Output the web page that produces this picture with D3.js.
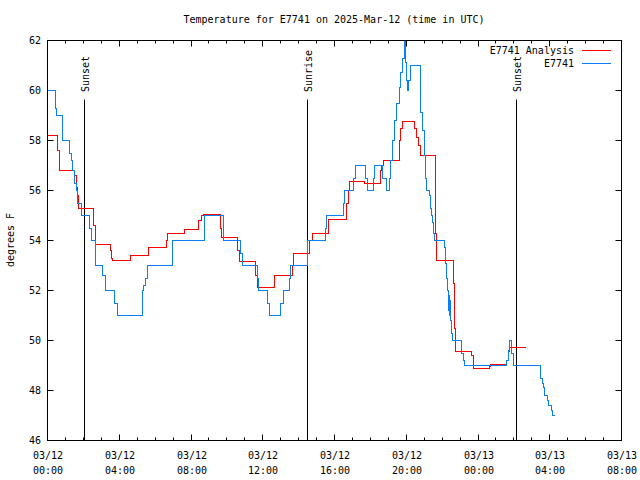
<!DOCTYPE html>
<html><head><meta charset="utf-8">
<script src="https://cdn.jsdelivr.net/npm/d3@7"></script>
<style>body{margin:0;background:#fff}svg{display:block}text{font-family:"DejaVu Sans Mono",monospace;font-size:10px;fill:#000}</style>
</head><body><svg id="c" width="640" height="480"></svg>
<script>
// hours since 2025-03-12 00:00 UTC
const obsHours=[0,0.42,0.50,0.85,1.23,1.32,1.41,1.51,1.59,1.70,1.87,2.36,2.43,2.68,3.09,3.21,3.76,3.91,5.27,5.36,5.47,5.60,6.98,8.76,9.82,10.77,10.85,11.72,11.79,12.25,12.35,12.97,13.13,13.50,13.56,14.49,15.50,15.57,16.48,16.58,17.04,17.19,17.71,17.84,18.15,18.24,18.69,18.88,19.08,19.14,19.24,19.32,19.48,19.60,19.70,19.79,19.88,19.95,20.03,20.07,20.12,20.22,20.79,20.90,21.00,21.07,21.15,21.28,21.33,21.41,21.47,21.50,21.56,22.11,22.17,22.23,22.30,22.34,22.37,22.39,22.42,22.45,22.49,22.54,22.59,23.08,23.17,23.23,25.61,25.69,25.74,25.89,25.97,27.51,27.61,27.66,27.73,27.85,27.94,28.07,28.16,28.25];
const obsTemps=[60.0,59.3,59.0,58.0,57.5,57.2,56.8,56.3,56.0,55.5,55.0,54.5,54.0,53.0,52.6,52.0,51.5,51.0,52.0,52.2,52.5,53.0,54.0,55.0,54.0,53.5,53.0,52.5,52.0,51.5,51.0,51.5,52.0,52.5,53.0,54.0,54.5,55.0,55.5,56.0,56.5,57.0,56.5,56.0,56.5,57.0,56.5,56.0,56.5,57.2,58.0,58.8,59.5,60.1,60.7,61.3,62.0,61.1,60.4,60.0,60.4,61.0,59.1,58.4,57.4,56.5,56.0,55.8,55.3,55.0,54.7,54.3,54.0,53.7,53.1,52.5,52.0,51.2,51.8,51.0,51.6,51.0,50.8,50.3,50.0,49.5,49.2,49.0,49.2,49.6,50.0,49.5,49.0,48.5,48.3,48.1,47.8,47.6,47.4,47.2,47.0,47.0];
const anaHours=[0,0.57,0.67,1.51,1.60,1.66,1.73,2.58,2.68,3.49,3.57,3.64,4.60,5.61,6.62,6.68,7.65,8.44,8.59,8.68,9.62,9.71,10.60,10.70,11.61,11.70,12.63,13.66,13.69,14.62,14.76,15.65,16.66,16.76,16.81,17.69,18.54,18.64,18.71,19.60,19.70,19.79,20.45,20.59,20.66,20.77,21.61,21.65,21.71,22.64,22.71,22.74,23.64,23.73,24.63,24.72,25.61,25.71,25.74,26.67];
const anaTemps=[58.2,57.6,56.8,56.6,56.1,55.8,55.3,54.6,53.85,53.6,53.3,53.2,53.4,53.7,54.0,54.3,54.45,54.8,55.0,55.05,54.5,54.1,53.6,53.15,52.6,52.1,52.6,53.0,53.5,54.0,54.3,54.85,55.5,56.0,56.35,56.3,56.8,57.0,57.2,58.0,58.5,58.77,58.5,58.1,57.8,57.4,56.3,54.3,53.2,52.3,50.5,49.57,49.4,48.87,48.95,49.03,49.2,49.55,49.73,49.73];
const eventHours=[2.08,14.47,26.17];
const eventLabels=["Sunset","Sunrise","Sunset"];
const xTickHours=[0,4,8,12,16,20,24,28,32];
const yTicks=[46,48,50,52,54,56,58,60,62];
const seriesNames=["E7741 Analysis","E7741"];
const seriesColors=["#ff0000","#0a7ff5"];

const base=Date.UTC(2025,2,12);
const H=3600000;
const toDate=h=>new Date(base+h*H);
const svg=d3.select("#c");
const L=47,R=621,T=40,B=440;
const x=d3.scaleUtc().domain([toDate(0),toDate(32)]).range([L,R]);
const y=d3.scaleLinear().domain([46,62]).range([B,T]);
const g=svg.append("g").attr("transform","translate(0.5,0.5)");

// ticks
const minor=d3.range(0,33).filter(h=>h%4!==0);
minor.forEach(h=>{const xx=Math.round(x(toDate(h)));
 g.append("line").attr("x1",xx).attr("x2",xx).attr("y1",B).attr("y2",B-3).attr("stroke","#000");
 g.append("line").attr("x1",xx).attr("x2",xx).attr("y1",T).attr("y2",T+3).attr("stroke","#000");});
xTickHours.forEach(h=>{const xx=Math.round(x(toDate(h)));
 g.append("line").attr("x1",xx).attr("x2",xx).attr("y1",B).attr("y2",B-6).attr("stroke","#000");
 g.append("line").attr("x1",xx).attr("x2",xx).attr("y1",T).attr("y2",T+6).attr("stroke","#000");
 const d=toDate(h);
 svg.append("text").attr("x",xx+1).attr("y",459).attr("text-anchor","middle").text(d3.utcFormat("%m/%d")(d));
 svg.append("text").attr("x",xx+1).attr("y",474).attr("text-anchor","middle").text(d3.utcFormat("%H:%M")(d));});
yTicks.forEach(v=>{const yy=Math.round(y(v));
 g.append("line").attr("x1",L).attr("x2",L+6).attr("y1",yy).attr("y2",yy).attr("stroke","#000");
 g.append("line").attr("x1",R).attr("x2",R-6).attr("y1",yy).attr("y2",yy).attr("stroke","#000");
 svg.append("text").attr("x",41).attr("y",yy+4).attr("text-anchor","end").text(v);});

// event lines
eventHours.forEach((h,i)=>{const xx=Math.round(x(toDate(h)));
 g.append("line").attr("x1",xx).attr("x2",xx).attr("y1",99).attr("y2",B).attr("stroke","#000");
 svg.append("text").attr("transform",`translate(${xx+5},92) rotate(-90)`).attr("text-anchor","start").text(eventLabels[i]);});

const line=d3.line().curve(d3.curveStepAfter).x(d=>Math.round(x(toDate(d[0])))).y(d=>Math.round(y(d[1])));
const ana=anaHours.map((h,i)=>[h,anaTemps[i]]);
const obs=obsHours.map((h,i)=>[h,obsTemps[i]]);
g.append("path").attr("d",line(ana)).attr("fill","none").attr("stroke",seriesColors[0]).attr("stroke-width",1.3).attr("shape-rendering","crispEdges");
g.append("path").attr("d",line(obs)).attr("fill","none").attr("stroke",seriesColors[1]).attr("stroke-width",1.3).attr("shape-rendering","crispEdges");

// border
g.append("rect").attr("x",L).attr("y",T).attr("width",R-L).attr("height",B-T).attr("fill","none").attr("stroke","#000");

// legend
seriesNames.forEach((n,i)=>{const yy=50+i*13;
 svg.append("text").attr("x",574).attr("y",yy+4).attr("text-anchor","end").text(n);
 g.append("line").attr("x1",581).attr("x2",610).attr("y1",yy).attr("y2",yy).attr("stroke",seriesColors[i]).attr("stroke-width",1.3).attr("shape-rendering","crispEdges");});

svg.append("text").attr("x",334).attr("y",23).attr("text-anchor","middle").text("Temperature for E7741 on 2025-Mar-12 (time in UTC)");
svg.append("text").attr("transform","translate(14,240) rotate(-90)").attr("text-anchor","middle").text("degrees F");
</script></body></html>
